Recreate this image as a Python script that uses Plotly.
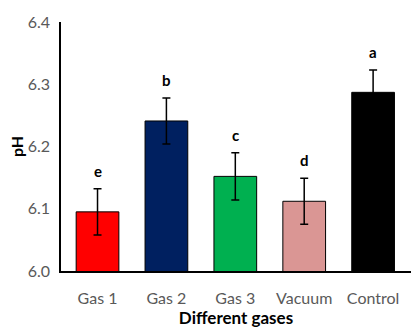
import plotly.graph_objects as go

categories = ["Gas 1", "Gas 2", "Gas 3", "Vacuum", "Control"]
ph_values = [6.095, 6.241, 6.152, 6.112, 6.287]
ph_errors = [0.037, 0.037, 0.038, 0.037, 0.036]
letters = ["e", "b", "c", "d", "a"]
bar_colors = ["#FF0000", "#002060", "#00B050", "#DA9694", "#000000"]
y_ticks = [6.0, 6.1, 6.2, 6.3, 6.4]

FONT = "Lato, Liberation Sans, sans-serif"

fig = go.Figure()
fig.add_trace(go.Bar(
    x=categories, y=ph_values,
    marker=dict(color=bar_colors, line=dict(color="#000000", width=1)),
    width=0.62,
    error_y=dict(type="data", array=ph_errors, color="#000000", thickness=1.5, width=4),
))

for c, v, e, l in zip(categories, ph_values, ph_errors, letters):
    fig.add_annotation(x=c, y=v + e, text="<b>%s</b>" % l, showarrow=False,
                       yanchor="bottom", yshift=7,
                       font=dict(family=FONT, size=15, color="#000000"))

fig.update_layout(
    width=411, height=328,
    margin=dict(l=61, r=0, t=22, b=57, autoexpand=False),
    paper_bgcolor="white", plot_bgcolor="white",
    showlegend=False,
    font=dict(family=FONT, color="#595959", size=16),
)
fig.update_xaxes(
    range=[-0.53, 4.55], showline=True, linecolor="#000000", linewidth=1.5,
    ticks="", ticklabelstandoff=12, showgrid=False, automargin=False,
    tickfont=dict(family=FONT, size=16, color="#595959"),
    title=dict(text="<b>Different gases</b>", standoff=14,
               font=dict(family=FONT, size=17, color="#000000")),
)
fig.update_yaxes(
    range=[6.0, 6.4], tickvals=y_ticks, tickformat=".1f",
    showline=True, linecolor="#000000", linewidth=1.5, ticks="", showgrid=False,
    zeroline=False, ticklabelstandoff=6, automargin=False,
    tickfont=dict(family=FONT, size=16, color="#595959"),
    title=dict(text="<b>pH</b>", standoff=0,
               font=dict(family=FONT, size=16, color="#000000")),
)

fig.write_html("out.html", config={"displayModeBar": False},
               post_script="document.body.style.margin='0';document.body.style.overflow='hidden';")
